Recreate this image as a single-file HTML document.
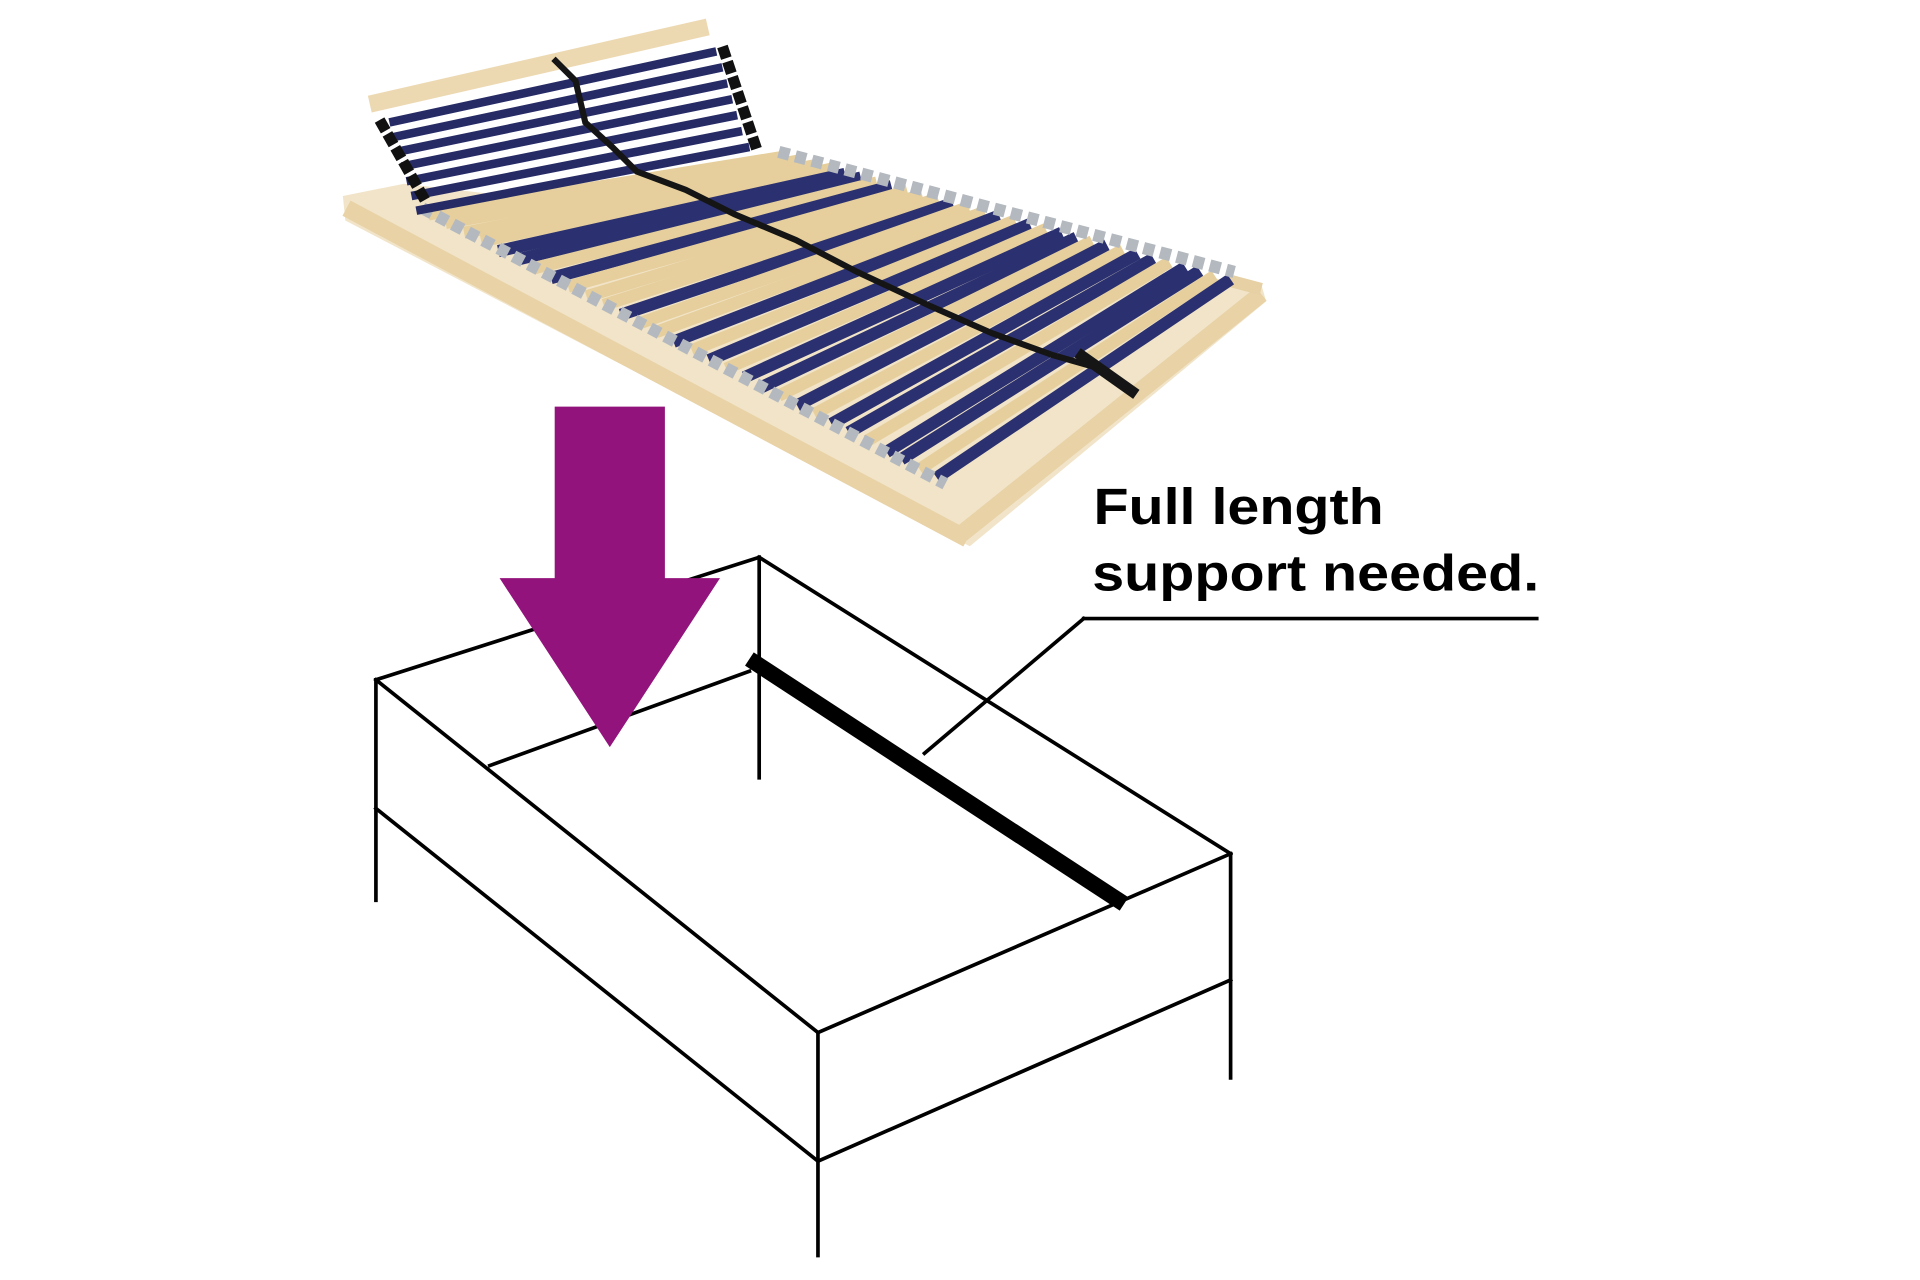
<!DOCTYPE html>
<html><head><meta charset="utf-8"><style>
html,body{margin:0;padding:0;background:#fff;}
svg{display:block}
</style></head><body>
<svg width="1920" height="1280" viewBox="0 0 1568 1045" preserveAspectRatio="none" xmlns="http://www.w3.org/2000/svg">
<rect width="1568" height="1045" fill="#fff"/>
<!-- slatted frame base -->
<polygon points="280,160 330,150 1030,232 1034,246 792,446 282,180" fill="#f1e4c8"/>
<line x1="283" y1="170" x2="790" y2="440" stroke="#e8d2a6" stroke-width="14"/>
<line x1="785" y1="436" x2="1030" y2="240" stroke="#e8d2a6" stroke-width="14"/>
<line x1="1000" y1="228" x2="1030" y2="236" stroke="#e6d0a4" stroke-width="10"/>
<!-- flat slats -->
<g stroke-width="10" stroke-linecap="butt">
<line x1="350" y1="175" x2="640" y2="128" stroke="#e6cf9c"/>
<line x1="364" y1="182" x2="653" y2="131" stroke="#e6cf9c"/>
<line x1="379" y1="190" x2="665" y2="135" stroke="#e6cf9c"/>
<line x1="393" y1="197" x2="678" y2="138" stroke="#e6cf9c"/>
<line x1="407" y1="205" x2="690" y2="142" stroke="#2b3170"/>
<line x1="422" y1="212" x2="703" y2="145" stroke="#2b3170"/>
<line x1="436" y1="219" x2="716" y2="149" stroke="#e6cf9c"/>
<line x1="450" y1="227" x2="728" y2="152" stroke="#2b3170"/>
<line x1="464" y1="234" x2="741" y2="156" stroke="#e6cf9c"/>
<line x1="479" y1="242" x2="753" y2="159" stroke="#e6cf9c"/>
<line x1="493" y1="249" x2="766" y2="162" stroke="#e6cf9c"/>
<line x1="507" y1="257" x2="778" y2="166" stroke="#2b3170"/>
<line x1="522" y1="264" x2="791" y2="169" stroke="#e6cf9c"/>
<line x1="536" y1="271" x2="804" y2="173" stroke="#e6cf9c"/>
<line x1="550" y1="279" x2="816" y2="176" stroke="#2b3170"/>
<line x1="565" y1="286" x2="829" y2="180" stroke="#e6cf9c"/>
<line x1="579" y1="294" x2="841" y2="183" stroke="#2b3170"/>
<line x1="593" y1="301" x2="854" y2="187" stroke="#e6cf9c"/>
<line x1="608" y1="308" x2="867" y2="190" stroke="#2b3170"/>
<line x1="622" y1="316" x2="879" y2="194" stroke="#2b3170"/>
<line x1="636" y1="323" x2="892" y2="197" stroke="#e6cf9c"/>
<line x1="651" y1="331" x2="904" y2="200" stroke="#2b3170"/>
<line x1="665" y1="338" x2="917" y2="204" stroke="#e6cf9c"/>
<line x1="679" y1="346" x2="929" y2="207" stroke="#2b3170"/>
<line x1="693" y1="353" x2="942" y2="211" stroke="#2b3170"/>
<line x1="708" y1="360" x2="955" y2="214" stroke="#e6cf9c"/>
<line x1="724" y1="369" x2="968" y2="218" stroke="#2b3170"/>
<line x1="736" y1="375" x2="980" y2="221" stroke="#2b3170"/>
<line x1="751" y1="383" x2="992" y2="225" stroke="#e6cf9c"/>
<line x1="765" y1="390" x2="1005" y2="228" stroke="#2b3170"/>
</g>
<!-- gray caps -->
<g stroke="#b4b9bf" stroke-width="10" stroke-dasharray="9 5">
<line x1="345" y1="170" x2="772" y2="395"/>
<line x1="636" y1="124" x2="1008" y2="222"/>
</g>
<!-- head section -->
<line x1="302" y1="85" x2="578" y2="22" stroke="#ecd9b2" stroke-width="14"/>
<g stroke="#262b66" stroke-width="7">
<line x1="318" y1="100" x2="585" y2="42"/>
<line x1="321" y1="112" x2="590" y2="55"/>
<line x1="324" y1="124" x2="594" y2="68"/>
<line x1="328" y1="136" x2="598" y2="81"/>
<line x1="332" y1="148" x2="602" y2="94"/>
<line x1="336" y1="160" x2="606" y2="107"/>
<line x1="340" y1="172" x2="612" y2="120"/>
</g>
<g stroke="#111" stroke-width="9" stroke-dasharray="10 3">
<line x1="310" y1="98" x2="348" y2="165"/>
<line x1="590" y1="38" x2="618" y2="122"/>
</g>
<!-- strap -->
<polyline points="452,48 470,66 478,100 500,120 520,140 560,155 600,175 650,196 700,222 760,250 810,272 860,290 895,300 920,318 925,322" fill="none" stroke="#151515" stroke-width="5"/>
<line x1="880" y1="288" x2="928" y2="322" stroke="#151515" stroke-width="9"/>
<!-- bed box -->
<g stroke="#000" stroke-width="3" fill="none" stroke-linecap="square">
<line x1="307" y1="555" x2="620" y2="455"/>
<line x1="307" y1="555" x2="307" y2="735"/>
<line x1="620" y1="455" x2="620" y2="635"/>
<line x1="620" y1="455" x2="1005" y2="697"/>
<line x1="1005" y1="697" x2="1005" y2="880"/>
<line x1="1005" y1="697" x2="668" y2="843"/>
<line x1="668" y1="843" x2="668" y2="1025"/>
<line x1="307" y1="555" x2="668" y2="843"/>
<line x1="307" y1="660" x2="668" y2="948"/>
<line x1="668" y1="948" x2="1005" y2="800"/>
<line x1="400" y1="625" x2="612" y2="548"/>
<line x1="755" y1="615" x2="885" y2="505"/>
<line x1="885" y1="505" x2="1255" y2="505"/>
</g>
<line x1="612" y1="538" x2="918" y2="738" stroke="#000" stroke-width="13"/>
<polygon points="453,332 543,332 543,472 588,472 498,610 408,472 453,472" fill="#92137b"/>
<text x="893" y="428" font-family="Liberation Sans, sans-serif" font-weight="bold" font-size="42" fill="#000" textLength="237" lengthAdjust="spacingAndGlyphs">Full length</text>
<text x="892" y="482" font-family="Liberation Sans, sans-serif" font-weight="bold" font-size="42" fill="#000" textLength="365" lengthAdjust="spacingAndGlyphs">support needed.</text>
</svg>
</body></html>
